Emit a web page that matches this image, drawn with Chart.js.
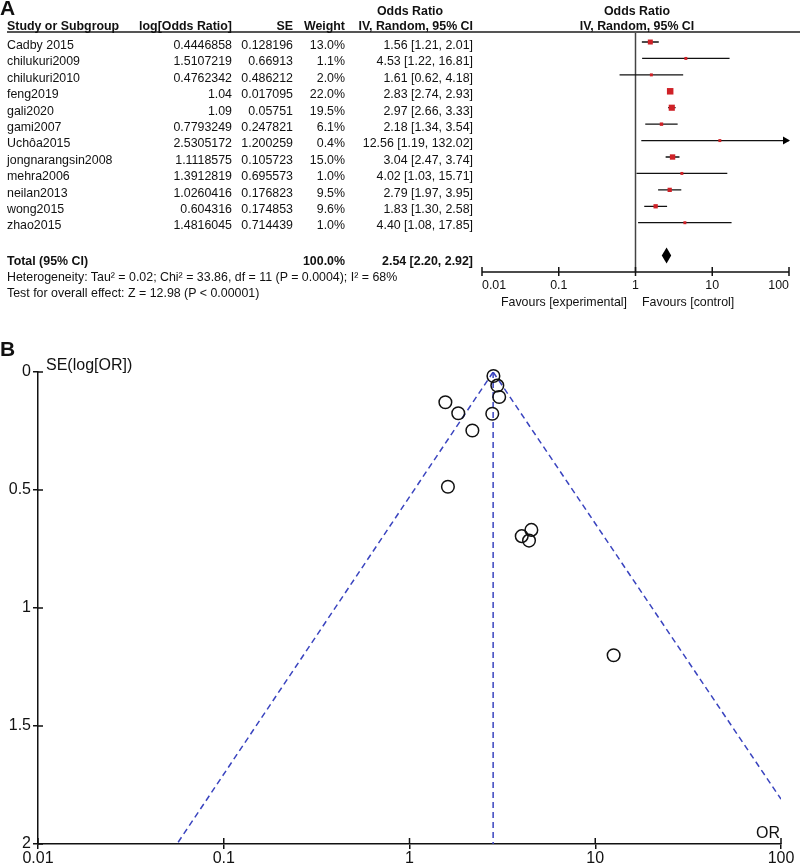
<!DOCTYPE html>
<html>
<head>
<meta charset="utf-8">
<script src="https://cdn.jsdelivr.net/npm/chart.js@4.4.1/dist/chart.umd.min.js"></script>
<style>
    body { margin: 0; background: #fff; font-family: "Liberation Sans", Arial, sans-serif; color: #111; }
    #page { position: relative; width: 800px; height: 867px; overflow: hidden; }
    canvas { position: absolute; left: 0; }
    .t { position: absolute; font-size: 12.4px; line-height: 14px; white-space: nowrap; }
    .b { font-weight: bold; }
    .big { font-size: 16px; line-height: 18px; }
    .panel { font-size: 21px; line-height: 22px; font-weight: bold; }
    #headerLine { position: absolute; left: 7px; top: 31px; width: 793px; height: 1.6px; background: #555; }
</style>
</head>
<body>
<div id="page">
    <canvas id="forestChart" width="800" height="320" style="top:0"></canvas>
    <canvas id="funnelChart" width="800" height="537" style="top:330px"></canvas>
    <div id="headerLine"></div>
    <div id="labels"></div>
</div>
<script>
const studies = ['Cadby 2015', 'chilukuri2009', 'chilukuri2010', 'feng2019', 'gali2020', 'gami2007',
    'Uchôa2015', 'jongnarangsin2008', 'mehra2006', 'neilan2013', 'wong2015', 'zhao2015'];
const logOdds = ['0.4446858', '1.5107219', '0.4762342', '1.04', '1.09', '0.7793249',
    '2.5305172', '1.1118575', '1.3912819', '1.0260416', '0.604316', '1.4816045'];
const stdErrors = ['0.128196', '0.66913', '0.486212', '0.017095', '0.05751', '0.247821',
    '1.200259', '0.105723', '0.695573', '0.176823', '0.174853', '0.714439'];
const weights = [13.0, 1.1, 2.0, 22.0, 19.5, 6.1, 0.4, 15.0, 1.0, 9.5, 9.6, 1.0];
const oddsRatios = [1.56, 4.53, 1.61, 2.83, 2.97, 2.18, 12.56, 3.04, 4.02, 2.79, 1.83, 4.40];
const ciLower = [1.21, 1.22, 0.62, 2.74, 2.66, 1.34, 1.19, 2.47, 1.03, 1.97, 1.30, 1.08];
const ciUpper = [2.01, 16.81, 4.18, 2.93, 3.33, 3.54, 132.02, 3.74, 15.71, 3.95, 2.58, 17.85];
const totalOR = 2.54;
const totalLower = 2.20;
const totalUpper = 2.92;
const orTicks = [0.01, 0.1, 1, 10, 100];
const seTicks = [0, 0.5, 1, 1.5, 2];

// funnel guide lines, end points
const funnelCentre = [{ x: 2.82, y: 0 }, { x: 2.82, y: 2 }];
const funnelLeft = [{ x: 2.82, y: 0 }, { x: 0.056, y: 2 }];
const funnelRight = [{ x: 2.82, y: 0 }, { x: 100, y: 1.81 }];

const FONT = '"Liberation Sans", Arial, sans-serif';
const labels = document.getElementById('labels');

function addText(text, x, y, align, cls) {
    const el = document.createElement('div');
    el.className = 't ' + (cls || '');
    el.textContent = text;
    const lh = cls && cls.includes('big') ? 18 : (cls && cls.includes('panel') ? 22 : 14);
    el.style.top = (y - lh / 2) + 'px';
    if (align === 'right') {
        el.style.left = (x - 300) + 'px'; el.style.width = '300px'; el.style.textAlign = 'right';
    } else if (align === 'center') {
        el.style.left = (x - 150) + 'px'; el.style.width = '300px'; el.style.textAlign = 'center';
    } else {
        el.style.left = x + 'px';
    }
    labels.appendChild(el);
}

// table part
addText('A', 0, 8, 'left', 'panel');
addText('Odds Ratio', 410, 11, 'center', 'b');
addText('Odds Ratio', 637, 11, 'center', 'b');
addText('Study or Subgroup', 7, 26, 'left', 'b');
addText('log[Odds Ratio]', 232, 26, 'right', 'b');
addText('SE', 293, 26, 'right', 'b');
addText('Weight', 345, 26, 'right', 'b');
addText('IV, Random, 95% CI', 473, 26, 'right', 'b');
addText('IV, Random, 95% CI', 637, 26, 'center', 'b');

studies.forEach((name, i) => {
    const y = 45 + 16.4 * i;
    addText(name, 7, y, 'left');
    addText(logOdds[i], 232, y, 'right');
    addText(stdErrors[i], 293, y, 'right');
    addText(weights[i].toFixed(1) + '%', 345, y, 'right');
    addText(oddsRatios[i].toFixed(2) + ' [' + ciLower[i].toFixed(2) + ', ' + ciUpper[i].toFixed(2) + ']', 473, y, 'right');
});
addText('Total (95% CI)', 7, 261, 'left', 'b');
addText('100.0%', 345, 261, 'right', 'b');
addText(totalOR.toFixed(2) + ' [' + totalLower.toFixed(2) + ', ' + totalUpper.toFixed(2) + ']', 473, 261, 'right', 'b');
addText('Heterogeneity: Tau² = 0.02; Chi² = 33.86, df = 11 (P = 0.0004); I² = 68%', 7, 277, 'left');
addText('Test for overall effect: Z = 12.98 (P < 0.00001)', 7, 293, 'left');
addText('Favours [experimental]', 627, 302, 'right');
addText('Favours [control]', 642, 302, 'left');

// funnel labels
addText('B', 0, 349, 'left', 'panel');
addText('SE(log[OR])', 46, 365, 'left', 'big');
addText('OR', 768, 833, 'center', 'big');

// ---------- forest plot ----------
const forestDecor = {
    id: 'forestDecor',
    beforeDatasetsDraw(chart) {
        const { ctx, chartArea, scales: { x } } = chart;
        ctx.save();
        ctx.strokeStyle = '#444';
        ctx.lineWidth = 1.5;
        const x1 = x.getPixelForValue(1);
        ctx.beginPath();
        ctx.moveTo(x1, 32);
        ctx.lineTo(x1, chartArea.bottom);
        ctx.stroke();

        ctx.strokeStyle = '#111';
        ctx.beginPath();
        ctx.moveTo(chartArea.left, chartArea.bottom);
        ctx.lineTo(chartArea.right, chartArea.bottom);
        orTicks.forEach(v => {
            const px = x.getPixelForValue(v);
            ctx.moveTo(px, chartArea.bottom - 5);
            ctx.lineTo(px, chartArea.bottom + 4);
        });
        ctx.stroke();

        ctx.fillStyle = '#111';
        ctx.font = '12.4px ' + FONT;
        ctx.textBaseline = 'middle';
        orTicks.forEach((v, i) => {
            ctx.textAlign = i === 0 ? 'left' : (i === orTicks.length - 1 ? 'right' : 'center');
            ctx.fillText(String(v), x.getPixelForValue(v), chartArea.bottom + 14);
        });
        ctx.restore();
    },
    afterDatasetsDraw(chart) {
        const { ctx, chartArea, scales: { x, y } } = chart;
        ctx.save();
        // pooled diamond
        const yc = y.getPixelForValue(studies.length + 1);
        ctx.fillStyle = '#000';
        ctx.beginPath();
        ctx.moveTo(x.getPixelForValue(totalLower), yc);
        ctx.lineTo(x.getPixelForValue(totalOR), yc - 8);
        ctx.lineTo(x.getPixelForValue(totalUpper), yc);
        ctx.lineTo(x.getPixelForValue(totalOR), yc + 8);
        ctx.closePath();
        ctx.fill();
        // arrows for intervals past the axis
        ciUpper.forEach((hi, i) => {
            if (hi <= x.max) return;
            const py = y.getPixelForValue(i);
            const tip = chartArea.right + 1;
            ctx.beginPath();
            ctx.moveTo(tip, py);
            ctx.lineTo(tip - 7, py - 4);
            ctx.lineTo(tip - 7, py + 4);
            ctx.closePath();
            ctx.fill();
        });
        ctx.restore();
    }
};

const ciDatasets = studies.map((name, i) => ({
    label: name,
    data: [{ x: ciLower[i], y: i }, { x: ciUpper[i], y: i }],
    showLine: true,
    borderColor: '#111',
    borderWidth: 1.3,
    pointRadius: 0
}));

// squares listed first so they are painted over the interval lines
new Chart(document.getElementById('forestChart'), {
    type: 'scatter',
    data: {
        datasets: [
            {
                label: 'Odds ratio',
                data: oddsRatios.map((v, i) => ({ x: v, y: i })),
                pointStyle: 'rect',
                pointRadius: weights.map(w => Math.max(2.1, 0.98 * Math.sqrt(w))),
                backgroundColor: '#cf2127',
                borderWidth: 0,
                clip: false
            },
            ...ciDatasets
        ]
    },
    options: {
        responsive: false,
        animation: false,
        events: [],
        layout: { padding: { left: 482, right: 11, top: 33.8, bottom: 48 } },
        plugins: { legend: { display: false }, tooltip: { enabled: false } },
        scales: {
            x: { type: 'logarithmic', min: 0.01, max: 100, display: false },
            y: { type: 'linear', reverse: true, min: -0.5, max: 14, display: false }
        }
    },
    plugins: [forestDecor]
});

// ---------- funnel plot ----------
const innerTicks = {
    id: 'innerTicks',
    afterDraw(chart) {
        const { ctx, chartArea, scales: { x, y } } = chart;
        ctx.save();
        ctx.strokeStyle = '#111';
        ctx.lineWidth = 1.5;
        ctx.beginPath();
        seTicks.forEach(v => {
            const py = y.getPixelForValue(v);
            ctx.moveTo(chartArea.left, py);
            ctx.lineTo(chartArea.left + 5, py);
        });
        orTicks.forEach(v => {
            const px = x.getPixelForValue(v);
            ctx.moveTo(px, chartArea.bottom);
            ctx.lineTo(px, chartArea.bottom - 6);
        });
        ctx.stroke();
        ctx.restore();
    }
};

const guideStyle = {
    showLine: true,
    borderColor: '#3a44bf',
    borderWidth: 1.5,
    borderDash: [6, 4],
    pointRadius: 0
};

new Chart(document.getElementById('funnelChart'), {
    type: 'scatter',
    data: {
        datasets: [
            {
                label: 'Studies',
                data: oddsRatios.map((v, i) => ({ x: v, y: parseFloat(stdErrors[i]) })),
                pointRadius: 6.3,
                pointBorderWidth: 1.5,
                borderColor: '#111',
                backgroundColor: 'rgba(0,0,0,0)',
                clip: false
            },
            { label: 'Pooled', data: funnelCentre, ...guideStyle },
            { label: 'Lower limit', data: funnelLeft, ...guideStyle },
            { label: 'Upper limit', data: funnelRight, ...guideStyle }
        ]
    },
    options: {
        responsive: false,
        animation: false,
        events: [],
        layout: { padding: { left: 0, right: 19, top: 42, bottom: 0 } },
        plugins: { legend: { display: false }, tooltip: { enabled: false } },
        scales: {
            x: {
                type: 'logarithmic',
                min: 0.01,
                max: 100,
                afterBuildTicks: s => { s.ticks = orTicks.map(v => ({ value: v })); },
                afterFit: s => { s.height = 23; },
                ticks: { callback: v => String(v), color: '#111', font: { size: 16, family: FONT }, padding: 0, maxRotation: 0, autoSkip: false },
                grid: { drawOnChartArea: false, drawTicks: true, tickLength: 5, color: '#111', lineWidth: 1.5 },
                border: { display: true, color: '#111', width: 1.5 }
            },
            y: {
                type: 'linear',
                reverse: true,
                min: 0,
                max: 2,
                afterBuildTicks: s => { s.ticks = seTicks.map(v => ({ value: v })); },
                afterFit: s => { s.width = 38; },
                ticks: { callback: v => String(v), color: '#111', font: { size: 16, family: FONT }, padding: 2 },
                grid: { drawOnChartArea: false, drawTicks: true, tickLength: 5, color: '#111', lineWidth: 1.5 },
                border: { display: true, color: '#111', width: 1.5 }
            }
        }
    },
    plugins: [innerTicks]
});
</script>
</body>
</html>
